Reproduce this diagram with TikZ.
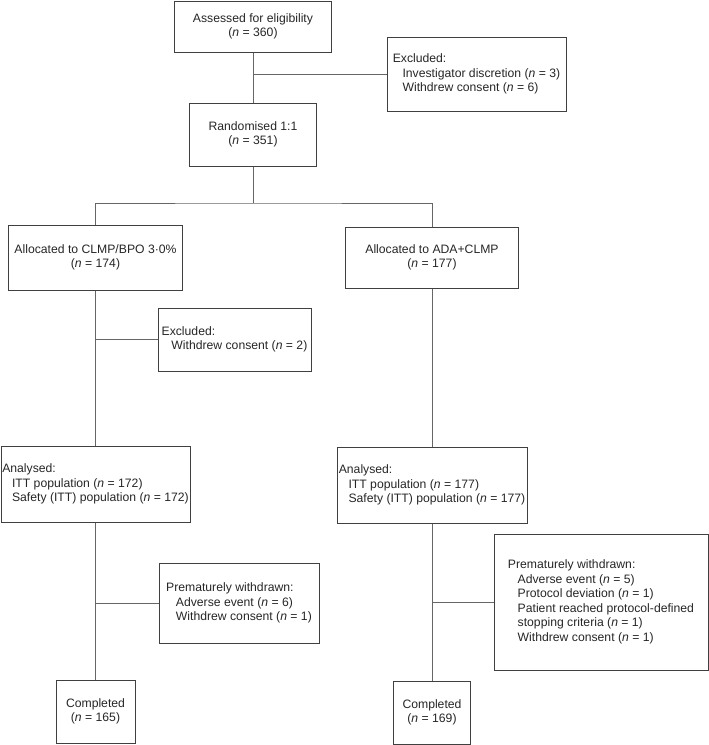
\documentclass[tikz,border=0pt]{standalone}
\usepackage{fontspec}
\setmainfont{Liberation Sans}
\usetikzlibrary{positioning}

\newcommand{\nn}{\textit{n}}
\newcommand{\ind}{\hspace*{0.8em}}

\begin{document}
\begin{tikzpicture}[x=1pt,y=-1pt]

    \useasboundingbox (0,0) rectangle (709,745);

    \begin{scope}[every node/.style={rectangle,draw=black!75,line width=1pt,inner sep=0pt,align=left,text=black!85,font=\fontsize{12.2}{14.5}\selectfont}]
        \node[minimum width=157pt,minimum height=51pt,align=center] (assess) at (253,26.5) {Assessed for eligibility\\(\nn{} = 360)}; % Top node
        \node[minimum width=179pt,minimum height=74pt] (excl1) at (476.5,74) {Excluded:\\\ind Investigator discretion (\nn{} = 3)\\\ind Withdrew consent (\nn{} = 6)};
        \node[minimum width=127pt,minimum height=63pt,align=center] (rand) at (253,134.5) {Randomised 1:1\\(\nn{} = 351)};
        \node[minimum width=174pt,minimum height=65pt,align=center] (allocL) at (95.5,257.5) {Allocated to CLMP/BPO 3·0\%\\(\nn{} = 174)};
        \node[minimum width=173pt,minimum height=61pt,align=center] (allocR) at (432,257.5) {Allocated to ADA+CLMP\\(\nn{} = 177)};
        \node[minimum width=153pt,minimum height=63pt] (excl2) at (234.5,339.5) {Excluded:\\\ind Withdrew consent (\nn{} = 2)};
        \node[minimum width=189pt,minimum height=76pt] (anaL) at (95.5,484) {Analysed:\\\ind ITT population (\nn{} = 172)\\\ind Safety (ITT) population (\nn{} = 172)};
        \node[minimum width=190pt,minimum height=76pt] (anaR) at (432,485) {Analysed:\\\ind ITT population (\nn{} = 177)\\\ind Safety (ITT) population (\nn{} = 177)};
        \node[minimum width=160pt,minimum height=80pt] (premL) at (239,603) {Prematurely withdrawn:\\\ind Adverse event (\nn{} = 6)\\\ind Withdrew consent (\nn{} = 1)};
        \node[minimum width=214pt,minimum height=136pt] (premR) at (601,602) {Prematurely withdrawn:\\\ind Adverse event (\nn{} = 5)\\\ind Protocol deviation (\nn{} = 1)\\\ind Patient reached protocol-defined\\\ind stopping criteria (\nn{} = 1)\\\ind Withdrew consent (\nn{} = 1)};
        \node[minimum width=79pt,minimum height=63pt,align=center] (compL) at (95.5,711.5) {Completed\\(\nn{} = 165)};
        \node[minimum width=77pt,minimum height=63pt,align=center] (compR) at (432,712.5) {Completed\\(\nn{} = 169)};
    \end{scope}

    \coordinate (split) at (253,203);

    \begin{scope}[every path/.style={draw=black!60,line width=0.8pt}]
        % Enrolment %
        \path (assess) -- (rand);
        \path (excl1.west) -- (excl1.west -| assess.south);
        \path (rand.south) -- (split);
        \path (allocL.north) |- (split) -| (allocR.north);
        % Left arm %
        \path (allocL) -- (anaL);
        \path (excl2.west) -- (excl2.west -| allocL.south);
        \path (anaL) -- (compL);
        \path (premL.west) -- (premL.west -| anaL.south);
        % Right arm %
        \path (allocR) -- (anaR);
        \path (anaR) -- (compR);
        \path (premR.west) -- (premR.west -| anaR.south);
    \end{scope}

\end{tikzpicture}
\end{document}
